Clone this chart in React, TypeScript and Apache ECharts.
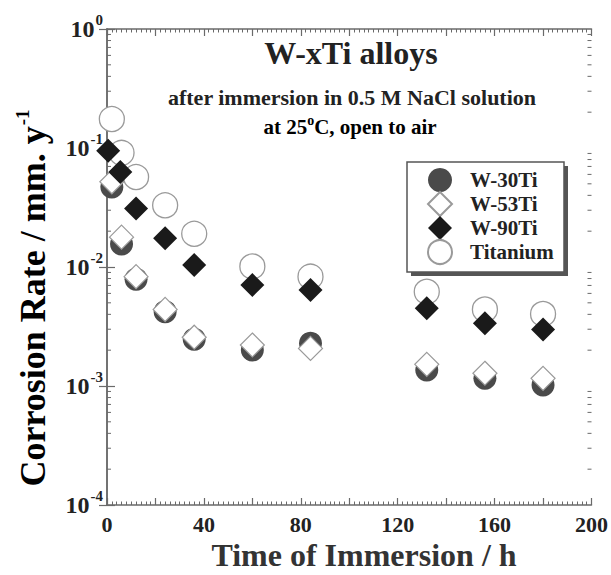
import React, { useEffect, useRef } from 'react';
import * as echarts from 'echarts';

const hours = [2, 6, 12, 24, 36, 60, 84, 132, 156, 180];
const w90Hours = [0.5, 5.5, 12, 24, 36, 60, 84, 132, 156, 180];
const w30Ti = [0.047, 0.0156, 0.0079, 0.0042, 0.00247, 0.00201, 0.00229, 0.00136, 0.00116, 0.00102];
const w53Ti = [0.052, 0.0178, 0.0083, 0.0044, 0.00257, 0.00221, 0.00207, 0.00152, 0.00128, 0.00116];
const w90Ti = [0.095, 0.063, 0.031, 0.0174, 0.0104, 0.00706, 0.0064, 0.0045, 0.00336, 0.00299];
const titanium = [0.175, 0.091, 0.057, 0.033, 0.019, 0.0101, 0.0083, 0.0062, 0.0044, 0.00403];
const seriesNames = ['W-30Ti', 'W-53Ti', 'W-90Ti', 'Titanium'];
const xTicks = [0, 40, 80, 120, 160, 200];
const minorMantissas = [2, 3, 4, 5, 6, 7, 8, 9];
const decades = [-4, -3, -2, -1];

const FONT = '"Liberation Serif", "Times New Roman", serif';
const AXIS = '#6a6a6a';

export default function App() {
  const ref = useRef<HTMLDivElement>(null);
  useEffect(() => {
    if (!ref.current) return;
    const chart = echarts.init(ref.current, undefined, { renderer: 'svg' });
    const minorLogTicks: number[][] = [];
    decades.forEach((e) => minorMantissas.forEach((m) => minorLogTicks.push([0, m * Math.pow(10, e)])));

    const xAxisBase = {
      type: 'value' as const,
      min: 0,
      max: 200,
      interval: 20,
      splitLine: { show: false },
      axisLine: { show: true, lineStyle: { color: AXIS, width: 1.5 } },
      axisTick: { show: true, inside: true, length: 7, lineStyle: { color: AXIS, width: 1.2 } },
      minorTick: { show: true, splitNumber: 10, length: 3.5, lineStyle: { color: AXIS, width: 1 } },
    };
    const yAxisBase = {
      type: 'log' as const,
      logBase: 10,
      min: 0.0001,
      max: 1,
      splitLine: { show: false },
      axisLine: { show: true, lineStyle: { color: AXIS, width: 1.5 } },
      axisTick: { show: true, inside: true, length: 8, lineStyle: { color: AXIS, width: 1.2 } },
    };

    chart.setOption({
      animation: false,
      backgroundColor: '#ffffff',
      grid: { left: 107, right: 19, top: 29, bottom: 70, containLabel: false },
      xAxis: [
        {
          ...xAxisBase,
          position: 'bottom',
          axisLabel: {
            show: true,
            margin: 8,
            fontFamily: FONT,
            fontWeight: 'bold',
            fontSize: 22,
            color: '#222',
            formatter: (v: number) => (xTicks.indexOf(v) >= 0 ? String(v) : ''),
          },
        },
        { ...xAxisBase, position: 'top', axisLabel: { show: false } },
      ],
      yAxis: [
        {
          ...yAxisBase,
          position: 'left',
          axisLabel: {
            show: true,
            margin: 4,
            formatter: (v: number) => `{b|10}{s|${Math.round(Math.log10(v))}}`,
            rich: {
              b: { fontFamily: FONT, fontWeight: 'bold', fontSize: 24, color: '#222' },
              s: { fontFamily: FONT, fontWeight: 'bold', fontSize: 15, color: '#222', padding: [0, 0, 18, 1] },
            },
          },
        },
        { ...yAxisBase, position: 'right', axisLabel: { show: false } },
      ],
      legend: {
        data: seriesNames,
        orient: 'vertical',
        left: 427,
        top: 168,
        padding: 0,
        itemWidth: 24,
        itemHeight: 24,
        itemGap: -1,
        z: 10,
        textStyle: { fontFamily: FONT, fontWeight: 'bold', fontSize: 21, lineHeight: 22, color: '#222', padding: [0, 0, 0, 13] },
      },
      graphic: [
        { type: 'rect', z: 1, shape: { x: 411, y: 166, width: 157, height: 110 }, style: { fill: '#555' } },
        { type: 'rect', z: 2, shape: { x: 407, y: 162, width: 157, height: 110 }, style: { fill: '#fff', stroke: '#555', lineWidth: 1.5 } },
        {
          type: 'text', x: 351, y: 53, z: 5,
          style: { text: 'W-xTi alloys', font: `bold 32px ${FONT}`, fill: '#222', textAlign: 'center', textVerticalAlign: 'middle' },
        },
        {
          type: 'text', x: 352, y: 97, z: 5,
          style: { text: 'after immersion in 0.5 M NaCl solution', font: `bold 22px ${FONT}`, fill: '#222', textAlign: 'center', textVerticalAlign: 'middle' },
        },
        {
          type: 'text', x: 350, y: 127, z: 5,
          style: {
            text: '{a|at 25}{s|o}{a|C, open to air}',
            textAlign: 'center', textVerticalAlign: 'middle',
            rich: {
              a: { fontFamily: FONT, fontWeight: 'bold', fontSize: 21, color: '#222' },
              s: { fontFamily: FONT, fontWeight: 'bold', fontSize: 14, color: '#222', padding: [0, 0, 14, 0] },
            },
          },
        },
        {
          type: 'text', x: 364, y: 555, z: 5,
          style: { text: 'Time of Immersion / h', font: `bold 32px ${FONT}`, fill: '#333', textAlign: 'center', textVerticalAlign: 'middle' },
        },
        {
          type: 'text', x: 33, y: 298, z: 5, rotation: Math.PI / 2,
          style: {
            text: '{a|Corrosion Rate / mm. y}{s|-1}',
            textAlign: 'center', textVerticalAlign: 'middle',
            rich: {
              a: { fontFamily: FONT, fontWeight: 'bold', fontSize: 36, color: '#3a3a3a' },
              s: { fontFamily: FONT, fontWeight: 'bold', fontSize: 19, color: '#3a3a3a', padding: [0, 0, 22, 1] },
            },
          },
        },
      ],
      series: [
        {
          name: 'W-30Ti', type: 'scatter', z: 2, symbol: 'circle', symbolSize: 23,
          itemStyle: { color: '#4a4a4a', opacity: 1 },
          data: hours.map((h, i) => [h, w30Ti[i]]),
        },
        {
          name: 'W-53Ti', type: 'scatter', z: 3, symbol: 'diamond', symbolSize: 24,
          itemStyle: { color: '#ffffff', borderColor: '#9a9a9a', borderWidth: 1.2, opacity: 1 },
          data: hours.map((h, i) => [h, w53Ti[i]]),
        },
        {
          name: 'W-90Ti', type: 'scatter', z: 3, symbol: 'diamond', symbolSize: 24,
          itemStyle: { color: '#1a1a1a', opacity: 1 },
          data: w90Hours.map((h, i) => [h, w90Ti[i]]),
        },
        {
          name: 'Titanium', type: 'scatter', z: 2, symbol: 'circle', symbolSize: 25,
          itemStyle: { color: '#ffffff', borderColor: '#9a9a9a', borderWidth: 1.3, opacity: 1 },
          data: hours.map((h, i) => [h, titanium[i]]),
        },
        {
          name: 'minorLogTicks', type: 'custom', silent: true, z: 1,
          data: minorLogTicks,
          renderItem: (params: any, api: any) => {
            const y = api.coord([0, api.value(1)])[1];
            const cs = params.coordSys;
            const st = { stroke: AXIS, lineWidth: 1 };
            return {
              type: 'group',
              children: [
                { type: 'line', shape: { x1: cs.x, y1: y, x2: cs.x + 4, y2: y }, style: st },
                { type: 'line', shape: { x1: cs.x + cs.width - 4, y1: y, x2: cs.x + cs.width, y2: y }, style: st },
              ],
            };
          },
        },
      ],
    });
    return () => chart.dispose();
  }, []);
  return <div ref={ref} style={{ position: 'absolute', left: 0, top: 0, width: 611, height: 575 }} />;
}
